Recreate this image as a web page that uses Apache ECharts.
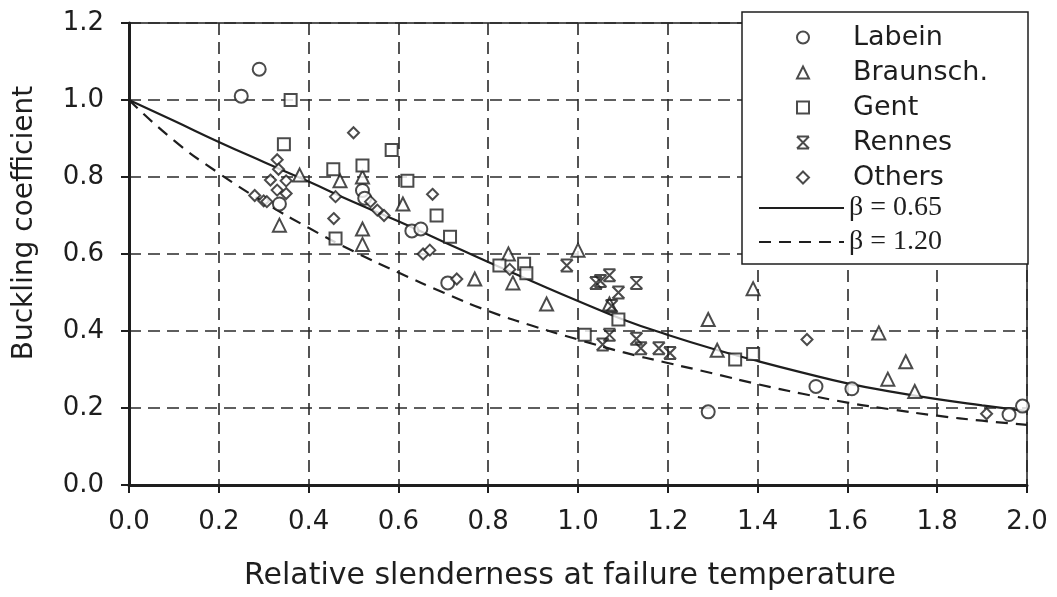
<!DOCTYPE html>
<html>
<head>
<meta charset="utf-8">
<script src="https://cdn.jsdelivr.net/npm/echarts@6/dist/echarts.min.js"></script>
<style>
  html, body { margin: 0; padding: 0; background: #fff; }
  #main { width: 1057px; height: 597px; }
</style>
</head>
<body>
<div id="main"></div>
<script>
// test results: [relative slenderness, buckling coefficient]
var labein = [[0.25, 1.01], [0.29, 1.08], [0.335, 0.73], [0.52, 0.765], [0.525, 0.745],
    [0.63, 0.66], [0.65, 0.665], [0.71, 0.525], [1.29, 0.19], [1.53, 0.256],
    [1.61, 0.25], [1.96, 0.183], [1.99, 0.205]];
var braunsch = [[0.335, 0.675], [0.38, 0.805], [0.47, 0.79], [0.52, 0.80], [0.52, 0.665],
    [0.52, 0.625], [0.61, 0.73], [0.77, 0.535], [0.845, 0.60], [0.855, 0.525],
    [0.93, 0.47], [1.0, 0.61], [1.07, 0.47], [1.29, 0.43], [1.31, 0.35],
    [1.39, 0.51], [1.67, 0.395], [1.73, 0.32], [1.69, 0.275], [1.75, 0.243]];
var gent = [[0.36, 1.0], [0.345, 0.885], [0.455, 0.82], [0.52, 0.83], [0.585, 0.87],
    [0.62, 0.79], [0.46, 0.64], [0.685, 0.70], [0.715, 0.645], [0.825, 0.57],
    [0.88, 0.575], [0.885, 0.55], [1.09, 0.43], [1.015, 0.39], [1.35, 0.326], [1.39, 0.34]];
var rennes = [[0.975, 0.57], [1.04, 0.525], [1.07, 0.545], [1.05, 0.53], [1.13, 0.525],
    [1.09, 0.50], [1.075, 0.465], [1.07, 0.39], [1.055, 0.365], [1.13, 0.38],
    [1.14, 0.355], [1.18, 0.355], [1.205, 0.343]];
var others = [[0.50, 0.915], [0.28, 0.752], [0.30, 0.738], [0.33, 0.845], [0.333, 0.82],
    [0.315, 0.792], [0.35, 0.79], [0.33, 0.766], [0.35, 0.757], [0.307, 0.736],
    [0.46, 0.749], [0.456, 0.692], [0.538, 0.736], [0.553, 0.714], [0.568, 0.70],
    [0.676, 0.755], [0.655, 0.60], [0.67, 0.61], [0.73, 0.535], [0.848, 0.56],
    [1.51, 0.378], [1.91, 0.185]];

// design curves, read at every 0.1 of slenderness
var curveX = [0, 0.1, 0.2, 0.3, 0.4, 0.5, 0.6, 0.7, 0.8, 0.9, 1.0,
    1.1, 1.2, 1.3, 1.4, 1.5, 1.6, 1.7, 1.8, 1.9, 2.0];
var beta065 = [1.0, 0.946, 0.891, 0.839, 0.788, 0.735, 0.685, 0.632, 0.579, 0.528, 0.478,
    0.43, 0.39, 0.354, 0.322, 0.292, 0.264, 0.242, 0.223, 0.207, 0.192];
var beta120 = [1.0, 0.895, 0.81, 0.735, 0.668, 0.607, 0.552, 0.50, 0.452, 0.413, 0.378,
    0.345, 0.317, 0.29, 0.262, 0.237, 0.214, 0.196, 0.18, 0.167, 0.156];

var ink = '#1e1e1e';
var sans = 'DejaVu Sans';

function pairs(xs, ys) {
    var out = [];
    for (var i = 0; i < xs.length; i++) out.push([xs[i], ys[i]]);
    return out;
}

function scatter(name, data, symbol, size) {
    return {
        name: name,
        type: 'scatter',
        data: data,
        symbol: symbol,
        symbolSize: size,
        z: 3,
        itemStyle: { color: '#fff', borderColor: ink, borderWidth: 2 }
    };
}

var chart = echarts.init(document.getElementById('main'));
var option = {
    backgroundColor: '#fff',
    animation: false,
    textStyle: { fontFamily: sans, color: ink },
    grid: {
        left: 129, right: 30, top: 23, bottom: 112,
        show: true, borderColor: ink, borderWidth: 1.5
    },
    xAxis: {
        type: 'value', min: 0, max: 2, interval: 0.2,
        name: 'Relative slenderness at failure temperature',
        nameLocation: 'middle', nameGap: 76,
        nameTextStyle: { fontSize: 30, color: ink, fontFamily: sans, padding: [0, 16, 0, 0] },
        axisLine: { lineStyle: { color: ink, width: 3 } },
        axisTick: { length: 8, lineStyle: { color: ink, width: 2 } },
        axisLabel: {
            fontSize: 26, color: ink, margin: 24,
            formatter: function (v) { return v.toFixed(1); }
        },
        splitLine: { show: true, lineStyle: { color: '#2a2a2a', width: 1.6, type: [12, 7] } }
    },
    yAxis: {
        type: 'value', min: 0, max: 1.2, interval: 0.2,
        name: 'Buckling coefficient',
        nameLocation: 'middle', nameGap: 90,
        nameTextStyle: { fontSize: 28, color: ink, fontFamily: sans, padding: [0, 0, 0, 62] },
        axisLine: { lineStyle: { color: ink, width: 3 } },
        axisTick: { length: 8, lineStyle: { color: ink, width: 2 } },
        axisLabel: {
            fontSize: 26, color: ink, margin: 25,
            formatter: function (v) { return v.toFixed(1); }
        },
        splitLine: { show: true, lineStyle: { color: '#2a2a2a', width: 1.6, type: [12, 7] } }
    },
    graphic: [{
        type: 'rect', z: 10,
        shape: { x: 742, y: 12, width: 286, height: 252 },
        style: { fill: '#fff', stroke: ink, lineWidth: 1.5 }
    }],
    legend: [{
        z: 20, orient: 'vertical', left: 796, top: 20, padding: 0,
        itemWidth: 12, itemHeight: 12, itemGap: 0, selectedMode: false,
        data: ['Labein', 'Braunsch.', 'Gent', 'Rennes', 'Others'],
        textStyle: { fontFamily: sans, fontSize: 27, color: ink, lineHeight: 35, padding: [0, 0, 0, 39] }
    }, {
        z: 20, orient: 'vertical', left: 758, top: 191, padding: 0,
        itemWidth: 85, itemHeight: 14, itemGap: 0, selectedMode: false,
        data: ['β = 0.65', 'β = 1.20'],
        itemStyle: { color: 'rgba(0,0,0,0)', borderWidth: 0, opacity: 0 },
        textStyle: { fontFamily: 'Liberation Serif', fontSize: 28, color: ink, lineHeight: 34 }
    }],
    series: [
        scatter('Labein', labein, 'circle', 13),
        scatter('Braunsch.', braunsch, 'triangle', 13),
        scatter('Gent', gent, 'rect', 12),
        scatter('Rennes', rennes, 'path://M0,0L10,0M0,10L10,10M0,0L10,10M10,0L0,10', 12),
        scatter('Others', others, 'diamond', 11),
        {
            name: 'β = 0.65', type: 'line', smooth: true, symbol: 'none', z: 2,
            data: pairs(curveX, beta065),
            lineStyle: { color: ink, width: 2.2, type: 'solid' },
            itemStyle: { color: ink }
        },
        {
            name: 'β = 1.20', type: 'line', smooth: true, symbol: 'none', z: 2,
            data: pairs(curveX, beta120),
            lineStyle: { color: ink, width: 2.2, type: [12, 8] },
            itemStyle: { color: ink }
        }
    ]
};
chart.setOption(option);
</script>
</body>
</html>
